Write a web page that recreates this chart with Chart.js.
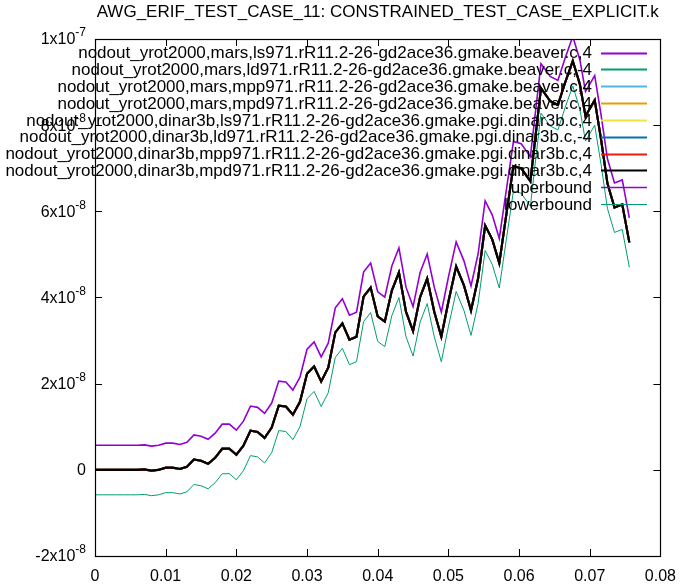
<!DOCTYPE html>
<html><head><meta charset="utf-8">
<script src="https://cdn.jsdelivr.net/npm/chart.js@4.4.1/dist/chart.umd.min.js"></script>
<style>html,body{margin:0;padding:0;background:#fff;}</style>
</head><body>
<canvas id="c" width="687" height="585" style="display:block;width:687px;height:585px"></canvas>
<script>
const TITLE = "AWG_ERIF_TEST_CASE_11: CONSTRAINED_TEST_CASE_EXPLICIT.k";
const FONT = "'Liberation Sans', Arial, sans-serif";

// x values (time)
const xs = [0,0.001,0.002,0.003,0.004,0.005,0.006,0.007,0.008,0.009,
  0.010,0.011,0.012,0.013,0.014,0.015,0.016,0.017,0.018,0.019,
  0.020,0.021,0.022,0.023,0.024,0.025,0.026,0.027,0.028,0.029,
  0.030,0.031,0.032,0.033,0.034,0.035,0.036,0.037,0.038,0.039,
  0.040,0.041,0.042,0.043,0.044,0.045,0.046,0.047,0.048,0.049,
  0.050,0.0511,0.0522,0.0532,0.0542,0.0552,0.0562,0.0572,0.0582,0.0592,
  0.0603,0.0616,0.0631,0.0644,0.0655,0.0665,0.0676,0.0686,0.0694,0.0707,
  0.0716,0.0725,0.0735,0.0746,0.0756];

// reference curve (units of 1e-9)
const refVals = [0,0,0,0,0,0,0,0.1,-0.2,0,
  0.5,0.5,0.2,0.7,2.4,2.1,1.4,2.8,4.9,4.9,
  3.5,5.6,9.1,8.8,7.4,9.8,14.9,14.7,12.8,15.8,
  22.3,24.0,20.5,23.7,31.9,34.0,30.2,30.9,40.2,42.3,
  35.6,34.4,41.6,45.8,36.7,32.2,40.1,44.4,36.7,30.9,
  39.0,47.2,42.8,37.0,44.4,56.7,53.5,48.0,59.3,70.5,
  70.0,67.0,88.6,85.6,84.7,89.8,94.9,89.5,82.1,85.8,
  76.7,66.5,60.9,61.6,52.8];

// upper bound (units of 1e-9)
const upperVals = [5.7,5.7,5.7,5.7,5.7,5.7,5.7,5.8,5.5,5.7,
  6.2,6.2,5.9,6.4,8.1,7.8,7.1,8.5,10.6,10.6,
  9.2,11.3,14.8,14.5,13.1,15.5,20.6,20.4,18.5,21.5,
  28.0,29.7,26.2,29.4,37.6,39.7,35.9,36.6,45.9,48.0,
  41.3,40.1,47.3,51.5,42.4,37.9,45.8,50.1,42.4,36.6,
  44.7,52.9,48.5,42.7,50.1,62.4,59.2,53.7,65.0,76.2,
  75.7,72.7,94.3,91.3,90.4,95.5,100.6,95.2,87.8,91.5,
  82.4,72.2,66.6,67.3,58.5];

// lower bound (units of 1e-9)
const lowerVals = [-5.8,-5.8,-5.8,-5.8,-5.8,-5.8,-5.8,-5.7,-6.0,-5.8,
  -5.3,-5.3,-5.6,-5.1,-3.4,-3.7,-4.4,-3.0,-0.9,-0.9,
  -2.3,-0.2,3.3,3.0,1.6,4.0,9.1,8.9,7.0,10.0,
  16.5,18.2,14.7,17.9,26.1,28.2,24.4,25.1,34.4,36.5,
  29.8,28.6,35.8,40.0,30.9,26.4,34.3,38.6,30.9,25.1,
  33.2,41.4,37.0,31.2,38.6,50.9,47.7,42.2,53.5,64.7,
  64.2,61.2,82.8,79.8,78.9,84.0,89.1,83.7,76.3,80.0,
  70.9,60.7,55.1,55.8,47.0];

const seriesLabels = [
  "nodout_yrot2000,mars,ls971.rR11.2-26-gd2ace36.gmake.beaver.c,4",
  "nodout_yrot2000,mars,ld971.rR11.2-26-gd2ace36.gmake.beaver.c,-4",
  "nodout_yrot2000,mars,mpp971.rR11.2-26-gd2ace36.gmake.beaver.c,4",
  "nodout_yrot2000,mars,mpd971.rR11.2-26-gd2ace36.gmake.beaver.c,4",
  "nodout_yrot2000,dinar3b,ls971.rR11.2-26-gd2ace36.gmake.pgi.dinar3b.c,4",
  "nodout_yrot2000,dinar3b,ld971.rR11.2-26-gd2ace36.gmake.pgi.dinar3b.c,-4",
  "nodout_yrot2000,dinar3b,mpp971.rR11.2-26-gd2ace36.gmake.pgi.dinar3b.c,4",
  "nodout_yrot2000,dinar3b,mpd971.rR11.2-26-gd2ace36.gmake.pgi.dinar3b.c,4",
  "uperbound",
  "lowerbound"
];
const seriesColors = ["#9400d3","#009e73","#56b4e9","#e69f00","#f0e442","#0072b2","#e51e10","#000000","#9400d3","#009e73"];
const seriesWidths = [2,2,2,2,2,2,2,2.2,1.6,1];

const xTicks = [0,0.01,0.02,0.03,0.04,0.05,0.06,0.07,0.08];
const yTicks = [-2e-8,0,2e-8,4e-8,6e-8,8e-8,1e-7];

const NANO = 1e-9;
const toPts = arr => arr.map((v,i)=>({x:xs[i], y:v*NANO}));
const seriesData = [];
for (let k=0;k<8;k++) seriesData.push(toPts(refVals));
seriesData.push(toPts(upperVals));
seriesData.push(toPts(lowerVals));

const datasets = seriesLabels.map((lab,i)=>({
  label: lab, data: seriesData[i], borderColor: seriesColors[i], backgroundColor: seriesColors[i],
  borderWidth: seriesWidths[i], pointRadius: 0, fill: false, tension: 0,
  order: 20 - i
}));

function yParts(v){
  const n = Math.round(v/1e-8);
  if (n===0) return ["0",""];
  if (Math.abs(n)>=10) return [(n/10)+"x10","-7"];
  return [n+"x10","-8"];
}

const framePlugin = {
  id:'frame',
  afterDatasetsDraw(chart){
    const ctx = chart.ctx, a = chart.chartArea;
    const xs_ = chart.scales.x, ys_ = chart.scales.y;
    ctx.save();
    ctx.strokeStyle = '#000'; ctx.lineWidth = 1;
    ctx.beginPath();
    xTicks.forEach(t=>{
      const p = Math.round(xs_.getPixelForValue(t))+0.5;
      ctx.moveTo(p,a.bottom); ctx.lineTo(p,a.bottom-7);
      ctx.moveTo(p,a.top); ctx.lineTo(p,a.top+7);
    });
    yTicks.forEach(t=>{
      const p = Math.round(ys_.getPixelForValue(t))+0.5;
      ctx.moveTo(a.left,p); ctx.lineTo(a.left+7,p);
      ctx.moveTo(a.right,p); ctx.lineTo(a.right-7,p);
    });
    ctx.stroke();
    ctx.lineWidth = 1.2;
    ctx.strokeRect(Math.round(a.left)+0.5, Math.round(a.top)+0.5, Math.round(a.right-a.left), Math.round(a.bottom-a.top));
    // y tick labels with superscript exponents
    ctx.fillStyle = '#000';
    ctx.textBaseline = 'middle';
    yTicks.forEach(t=>{
      const p = ys_.getPixelForValue(t);
      const [base, ex] = yParts(t);
      const right = 86;
      ctx.font = "12px " + FONT;
      const ew = ex ? ctx.measureText(ex).width : 0;
      if (ex){ ctx.textAlign='left'; ctx.fillText(ex, right-ew, p-6); }
      ctx.font = "16px " + FONT;
      ctx.textAlign='right';
      ctx.fillText(base, right-ew, p+1);
    });
    // key
    ctx.font = "17px " + FONT;
    ctx.textAlign = 'right'; ctx.textBaseline = 'middle'; ctx.fillStyle = '#000';
    chart.data.datasets.forEach((ds,i)=>{
      const y = 52.5 + i*16.85;
      ctx.fillText(ds.label, 592, y+1);
      ctx.beginPath();
      ctx.strokeStyle = ds.borderColor; ctx.lineWidth = Math.min(ds.borderWidth,2);
      ctx.moveTo(601, Math.round(y)+0.5); ctx.lineTo(647, Math.round(y)+0.5);
      ctx.stroke();
    });
    ctx.restore();
  }
};

new Chart(document.getElementById('c'), {
  type:'line',
  data:{datasets},
  plugins:[framePlugin],
  options:{
    responsive:false, animation:false, devicePixelRatio:1,
    layout:{padding:{left:0,right:23,top:0,bottom:0}},
    plugins:{
      legend:{display:false}, tooltip:{enabled:false},
      title:{display:true, text:TITLE, fullSize:false, color:'#000',
        font:{family:FONT, size:17, weight:'normal', lineHeight:1.2}, padding:{top:2,bottom:16.6}}
    },
    scales:{
      x:{type:'linear', min:0, max:0.08,
        afterFit(s){ s.height = 29; },
        afterBuildTicks(s){ s.ticks = xTicks.map(v=>({value:v})); },
        ticks:{color:'#000', font:{family:FONT,size:16}, padding:11, maxRotation:0, autoSkip:false,
          callback:v=>String(Math.round(v*100)/100)},
        grid:{display:false, drawTicks:false}, border:{display:false}},
      y:{type:'linear', min:-2e-8, max:1e-7,
        afterFit(s){ s.width = 95; },
        afterBuildTicks(s){ s.ticks = yTicks.map(v=>({value:v})); },
        ticks:{display:false},
        grid:{display:false, drawTicks:false}, border:{display:false}}
    }
  }
});
</script>
</body></html>
